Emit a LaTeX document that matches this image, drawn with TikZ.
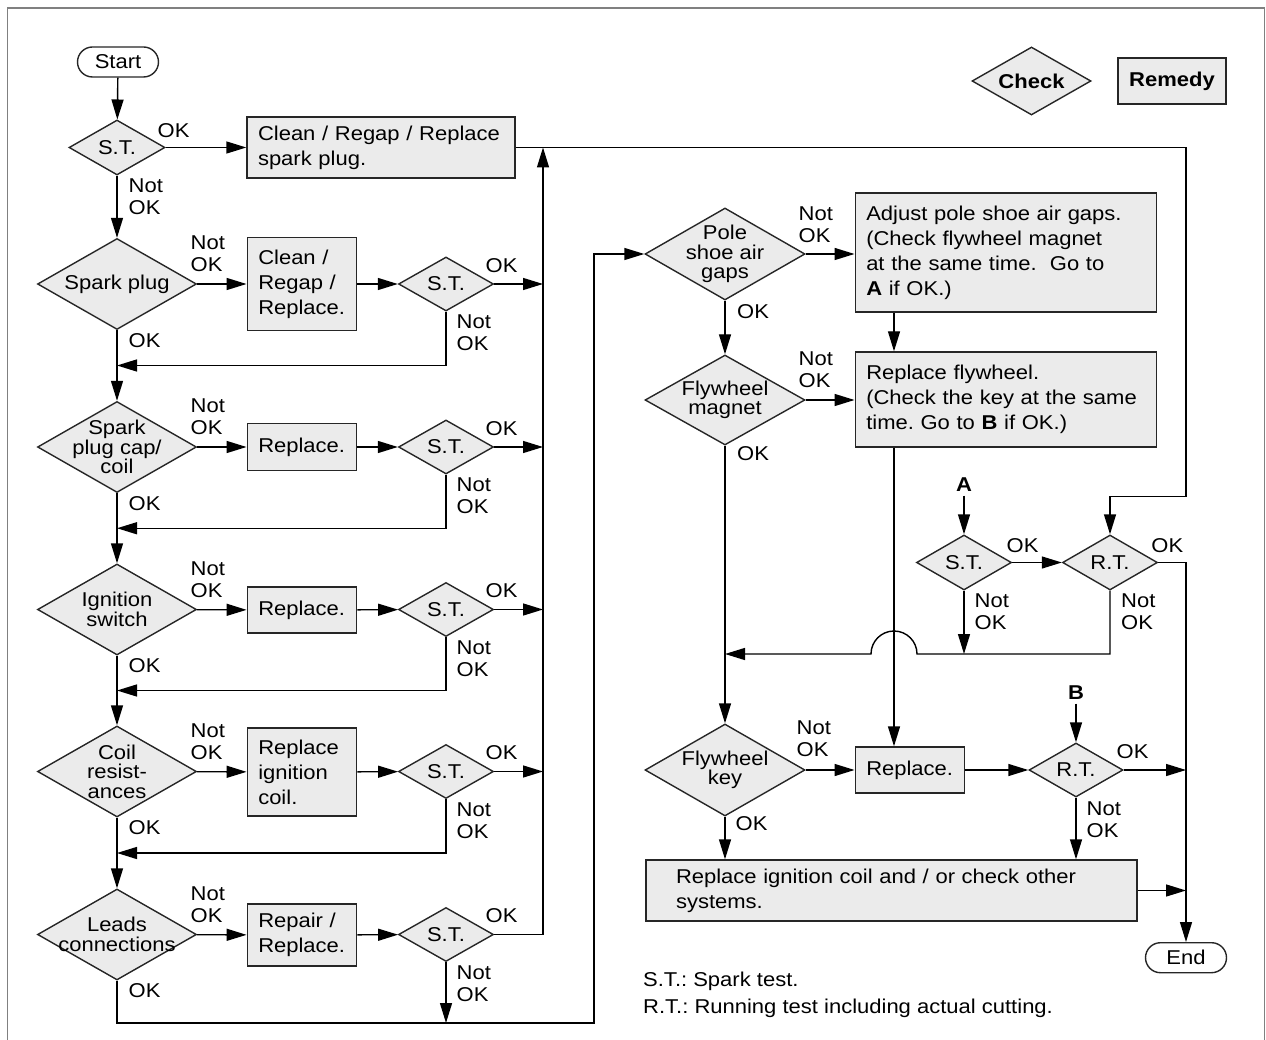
\documentclass[tikz,border=0pt]{standalone}
\usepackage{fontspec}
\setmainfont{Liberation Sans}[FakeStretch=1.1]
\usetikzlibrary{arrows.meta,shapes.geometric,calc}
\definecolor{boxfill}{HTML}{EBEBEB}
\definecolor{framegray}{HTML}{808080}
\frenchspacing

\begin{document}
\begin{tikzpicture}[x=1pt,y=-1pt,font=\fontsize{20}{22}\selectfont,line width=1.4pt,
 ar/.style={-{Triangle[length=20pt,width=12pt]}},
 dia/.style={diamond,draw=black!85,fill=boxfill,inner sep=0pt},
 dtxt/.style={align=center,inner sep=0pt,font=\fontsize{20}{19.5}\selectfont},
 rem/.style={rectangle,draw=black!85,fill=boxfill,align=left,inner xsep=11pt,inner ysep=0pt,font=\fontsize{20}{25}\selectfont},
 term/.style={rectangle,rounded corners=15pt,draw=black!85,fill=white,minimum width=81pt,minimum height=30pt,inner sep=0pt},
 lab/.style={anchor=north west,align=left,inner sep=0pt}]
\useasboundingbox (0,0) rectangle (1266,1040);
\draw[framegray,line width=1.6pt] (7.5,1050) -- (7.5,8) -- (1264.5,8) -- (1264.5,1050);

% key
\node[dia,minimum width=119pt,minimum height=68pt,label={[dtxt]center:\textbf{Check}}] (keychk) at (1031.5,81) {};
\node[rectangle,draw=black!85,fill=boxfill,minimum width=108pt,minimum height=46pt] (keyrem) at (1172,81) {\textbf{Remedy}};

% left column
\node[term] (start) at (118,62) {Start};
\node[dia,minimum width=96pt,minimum height=55pt,label={[dtxt]center:S.T.}] (st0) at (117,147.5) {};
\node[rem,text width=246pt,minimum height=61pt] (fixplug) at (381,147.5) {Clean / Regap / Replace\\spark plug.};
\node[lab] (ok0) at (157,122.5) {OK};
\node[lab] (nok0) at (128,178.5) {Not\\OK};

\node[dia,minimum width=159pt,minimum height=91pt,label={[dtxt]center:Spark plug}] (chkplug) at (117,284) {};
\node[dia,minimum width=159pt,minimum height=91pt,label={[dtxt]center:{Spark\\plug cap/\\coil}}] (chkcap) at (117,447) {};
\node[dia,minimum width=159pt,minimum height=91pt,label={[dtxt]center:{Ignition\\switch}}] (chksw) at (117,609.5) {};
\node[dia,minimum width=159pt,minimum height=91pt,label={[dtxt]center:{Coil\\resist-\\ances}}] (chkcoil) at (117,771.5) {};
\node[dia,minimum width=159pt,minimum height=91pt,label={[dtxt]center:{Leads\\connections}}] (chklead) at (117,934.5) {};

\node[rem,text width=87.5pt,minimum height=93pt] (remplug) at (302,284) {Clean /\\Regap /\\Replace.};
\node[rem,text width=87.5pt,minimum height=47pt] (remcap) at (302,447) {Replace.};
\node[rem,text width=87.5pt,minimum height=46pt] (remsw) at (302,610) {Replace.};
\node[rem,text width=87.5pt,minimum height=88pt] (remcoil) at (302,772) {Replace\\ignition\\coil.};
\node[rem,text width=87.5pt,minimum height=62pt] (remlead) at (302,935) {Repair /\\Replace.};

\coordinate (bustop) at (543,147.5);
\coordinate (retcorner) at (594,1023);

\foreach \n/\c in {plug/284,cap/447,sw/609.5,coil/771.5,lead/934.5}{
 \node[dia,minimum width=95pt,minimum height=54pt,label={[dtxt]center:S.T.}] (st\n) at (446,\c) {};
 \node[lab] (nl\n) at (190,\c-48.5) {Not\\OK};
 \node[lab] (ol\n) at (485,\c-26.5) {OK};
 \node[lab] (ns\n) at (456,\c+30.5) {Not\\OK};
 \node[lab] (od\n) at (128,\c+48.5) {OK};
 \draw[ar] (chk\n) -- (rem\n);
 \draw[ar] (rem\n) -- (st\n);
}
\foreach \n in {plug,cap,sw,coil}
 \draw[ar] (st\n.east) -- (st\n.east -| bustop);
\foreach \n/\m in {plug/cap,cap/sw,sw/coil,coil/lead}{
 \draw[ar] (chk\n) -- (chk\m);
 \draw[ar] (st\n.south) |- ($(chk\n.south)!.5!(chk\m.north)$);
}
\draw[ar] (start) -- (st0);
\draw[ar] (st0) -- (fixplug);
\draw[ar] (st0) -- (chkplug);
\draw[ar] (stlead.east) -| (bustop);
\draw[ar] (stlead.south) -- (stlead.south |- retcorner);

% right column
\node[dia,minimum width=160pt,minimum height=92pt,label={[dtxt]center:{Pole\\shoe air\\gaps}}] (chkpole) at (725,254) {};
\node[dia,minimum width=160pt,minimum height=90pt,label={[dtxt]center:{Flywheel\\magnet}}] (chkmag) at (725,400) {};
\node[dia,minimum width=160pt,minimum height=92pt,label={[dtxt]center:{Flywheel\\key}}] (chkkey) at (725,770) {};
\node[rem,text width=279.5pt,minimum height=119pt] (rempole) at (1006,252.5) {Adjust pole shoe air gaps.\\(Check flywheel magnet\\at the same time.\ \ Go to\\\textbf{A} if OK.)};
\node[rem,text width=279.5pt,minimum height=95pt] (remmag) at (1006,399.5) {Replace flywheel.\\(Check the key at the same\\time. Go to \textbf{B} if OK.)};
\node[rem,text width=87.5pt,minimum height=46pt] (remkey) at (910,770) {Replace.};
\node[rem,inner xsep=30pt,text width=431pt,minimum height=61pt] (remother) at (891.5,890.5) {Replace ignition coil and / or check other\\systems.};

\node[inner sep=3pt] (lblA) at (964,485) {\textbf{A}};
\node[inner sep=3pt] (lblB) at (1076,693) {\textbf{B}};
\node[dia,minimum width=95pt,minimum height=55pt,label={[dtxt]center:S.T.}] (sta) at (964,562.5) {};
\node[dia,minimum width=95pt,minimum height=55pt,label={[dtxt]center:R.T.}] (rta) at (1110,562.5) {};
\node[dia,minimum width=94pt,minimum height=54pt,label={[dtxt]center:R.T.}] (rtkey) at (1076,770) {};
\node[term] (endnode) at (1186,957.7) {End};

\node[lab] (nokpole) at (798,206.5) {Not\\OK};
\node[lab] (okpole) at (736.5,303.5) {OK};
\node[lab] (nokmag) at (798,351.5) {Not\\OK};
\node[lab] (okmag) at (736.5,445.5) {OK};
\node[lab] (oksta) at (1006,537.5) {OK};
\node[lab] (noksta) at (974,593.5) {Not\\OK};
\node[lab] (okrta) at (1150.7,537.5) {OK};
\node[lab] (nokrta) at (1120.5,593.5) {Not\\OK};
\node[lab] (nokkey) at (796,720.5) {Not\\OK};
\node[lab] (okkey) at (735,815.5) {OK};
\node[lab] (okrtk) at (1116,743.5) {OK};
\node[lab] (nokrtk) at (1086,801.5) {Not\\OK};
\node[lab] (note1) at (642.5,971.5) {S.T.: Spark test.};
\node[lab] (note2) at (642.5,998.5) {R.T.: Running test including actual cutting.};

\coordinate (hop) at (894,654);
\coordinate (rtbend) at (1186,496.7);
\draw[ar] (chklead.south) |- (retcorner) |- (chkpole.west);
\draw[ar] (chkpole) -- (chkpole -| rempole.west);
\draw[ar] (chkpole) -- (chkmag);
\draw[ar] (rempole.south -| hop) -- (remmag.north -| hop);
\draw[ar] (chkmag) -- (chkmag -| remmag.west);
\draw[ar] (chkmag) -- (chkkey);
\draw[ar] (remmag.south -| hop) -- (remkey.north -| hop);
\draw[ar] (lblA) -- (sta);
\draw[ar] (sta) -- (rta);
\draw[ar] (fixplug.east) -| (rtbend) -| (rta.north);
\draw[ar] (rta.east) -| (endnode.north);
\draw[ar] (sta.south) -- (sta.south |- hop);
\draw[ar] (rta.south) |- ([xshift=23pt]hop) arc[start angle=0,end angle=180,radius=23pt] -- (hop -| chkmag);
\draw[ar] (chkkey) -- (remkey);
\draw[ar] (remkey) -- (rtkey);
\draw[ar] (lblB) -- (rtkey);
\draw[ar] (rtkey.east) -- (rtkey.east -| endnode.north);
\draw[ar] (rtkey.south) -- (rtkey.south |- remother.north);
\draw[ar] (chkkey.south) -- (chkkey.south |- remother.north);
\draw[ar] (remother.east) -- (remother.east -| endnode.north);
\end{tikzpicture}
\end{document}
